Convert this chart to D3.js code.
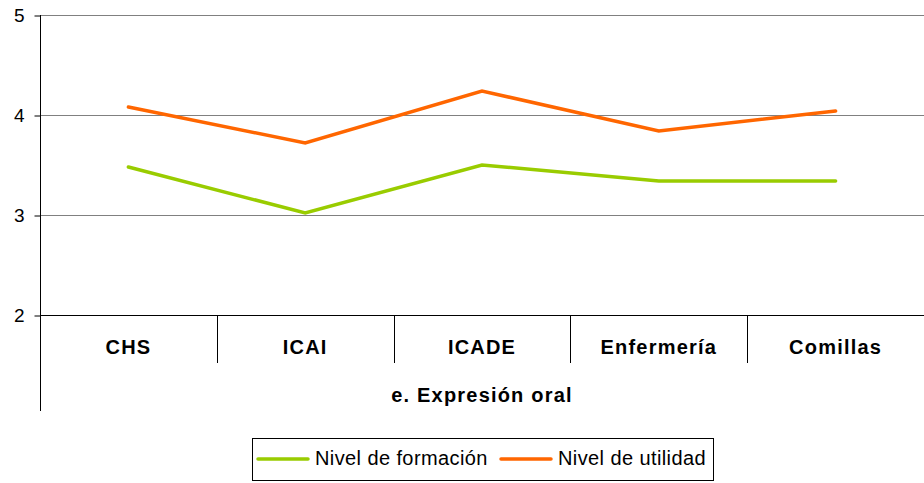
<!DOCTYPE html>
<html>
<head>
<meta charset="utf-8">
<script src="https://cdn.jsdelivr.net/npm/d3@7"></script>
<style>
  body { margin: 0; background: #fff; }
  text { font-family: "Liberation Sans", Arial, sans-serif; }
</style>
</head>
<body>
<svg id="chart" width="924" height="483"></svg>
<script>
var categories = ["CHS", "ICAI", "ICADE", "Enfermería", "Comillas"];
var formacion = [3.48, 3.02, 3.50, 3.34, 3.34];
var utilidad = [4.08, 3.72, 4.24, 3.84, 4.04];
var yTicks = [2, 3, 4, 5];
var seriesNames = ["Nivel de formación", "Nivel de utilidad"];
var colors = ["#99cc00", "#ff6600"];
var groupLabel = "e. Expresión oral";

function drawChart(){
    var svg = d3.select("#chart");
    var mLeft = 40, mRight = 924, mTop = 15, mBottom = 315;

    var x = d3.scaleBand().domain(categories).range([mLeft, mRight]);
    var y = d3.scaleLinear().domain([2, 5]).range([mBottom, mTop]);

    // gridlines
    svg.selectAll(".grid")
       .data(yTicks.filter(d => d > 2))
       .enter()
       .append("line")
       .attr("x1", mLeft).attr("x2", mRight)
       .attr("y1", d => y(d) + 0.5).attr("y2", d => y(d) + 0.5)
       .attr("stroke", "#808080")
       .attr("stroke-width", 1);

    // y axis
    var yAxis = d3.axisLeft(y).tickValues(yTicks).tickSize(6).tickPadding(10).tickFormat(d3.format("d"));
    var gy = svg.append("g").attr("transform", "translate(" + (mLeft + 0.5) + ",0.5)").call(yAxis);
    gy.select(".domain").remove();
    gy.selectAll(".tick line").attr("stroke", "#000");
    gy.selectAll(".tick text").attr("font-size", 19).attr("fill", "#000")
      .style("font-family", "'Liberation Sans', Arial, sans-serif");
    svg.append("line")
       .attr("x1", mLeft + 0.5).attr("x2", mLeft + 0.5)
       .attr("y1", mTop).attr("y2", 411)
       .attr("stroke", "#000");

    // x axis baseline
    svg.append("line")
       .attr("x1", mLeft).attr("x2", mRight)
       .attr("y1", mBottom + 0.5).attr("y2", mBottom + 0.5)
       .attr("stroke", "#000");

    // category separators
    svg.selectAll(".sep")
       .data(categories.slice(1))
       .enter()
       .append("line")
       .attr("x1", d => Math.round(x(d)) + 0.5).attr("x2", d => Math.round(x(d)) + 0.5)
       .attr("y1", mBottom).attr("y2", 363)
       .attr("stroke", "#000");

    svg.selectAll(".cat")
       .data(categories)
       .enter()
       .append("text")
       .attr("x", d => x(d) + x.bandwidth() / 2)
       .attr("y", 354)
       .attr("text-anchor", "middle")
       .attr("font-size", 20)
       .attr("font-weight", "bold")
       .attr("letter-spacing", 1.2)
       .text(d => d);

    svg.append("text")
       .attr("x", (mLeft + mRight) / 2)
       .attr("y", 402)
       .attr("text-anchor", "middle")
       .attr("font-size", 20)
       .attr("font-weight", "bold")
       .attr("letter-spacing", 1.2)
       .text(groupLabel);

    // lines
    var line = d3.line()
       .x((d, i) => x(categories[i]) + x.bandwidth() / 2)
       .y(d => y(d));

    [formacion, utilidad].forEach(function(s, i) {
        svg.append("path")
           .datum(s)
           .attr("d", line)
           .attr("fill", "none")
           .attr("stroke", colors[i])
           .attr("stroke-width", 3.5)
           .attr("stroke-linejoin", "miter")
           .attr("stroke-linecap", "round");
    });

    // legend
    var lg = svg.append("g");
    lg.append("rect")
      .attr("x", 252.5).attr("y", 438.5)
      .attr("width", 461).attr("height", 42)
      .attr("fill", "#fff").attr("stroke", "#000");
    var legendX = [258, 501];
    seriesNames.forEach(function(n, i) {
        lg.append("line")
          .attr("x1", legendX[i]).attr("x2", legendX[i] + 50)
          .attr("y1", 459).attr("y2", 459)
          .attr("stroke", colors[i]).attr("stroke-width", 3.5)
          .attr("stroke-linecap", "round");
        lg.append("text")
          .attr("x", legendX[i] + 57).attr("y", 465)
          .attr("font-size", 20)
          .attr("letter-spacing", 0.4)
          .text(n);
    });
}
drawChart();
</script>
</body>
</html>
